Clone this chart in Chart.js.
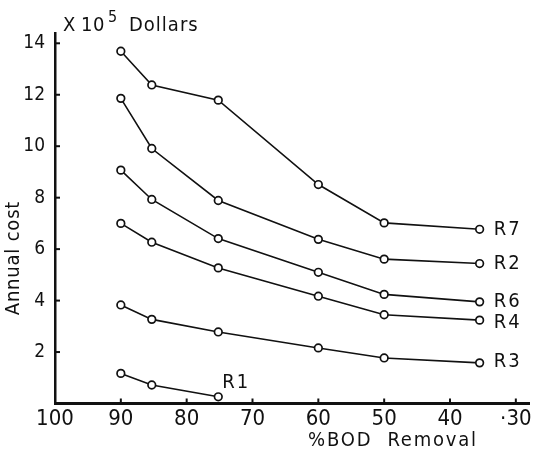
<!DOCTYPE html>
<html>
<head>
<meta charset="utf-8">
<script src="https://cdn.jsdelivr.net/npm/chart.js@4"></script>
<style>
  html, body { margin: 0; padding: 0; background: #fff; }
  #chart { display: block; }
</style>
</head>
<body>
<canvas id="chart" width="535" height="453"></canvas>
<script>
// % BOD removal at which each alternative was costed
var removal = [90, 85.3, 75.2, 60, 50, 35.5];
var removalR1 = [90, 85.3, 75.2];

// annual cost, x 10^5 dollars
var costR7 = [13.69, 12.38, 11.79, 8.51, 7.02, 6.77];
var costR2 = [11.86, 9.91, 7.89, 6.38, 5.61, 5.44];
var costR6 = [9.07, 7.93, 6.41, 5.10, 4.24, 3.95];
var costR4 = [7.00, 6.27, 5.27, 4.17, 3.45, 3.24];
var costR3 = [3.83, 3.27, 2.78, 2.16, 1.77, 1.58];
var costR1 = [1.17, 0.72, 0.26];

var xTicks = [100, 90, 80, 70, 60, 50, 40, 30];
var xTickLabels = ['100', '90', '80', '70', '60', '50', '40', '\u00b730'];
var yTicks = [2, 4, 6, 8, 10, 12, 14];

// where each curve name sits relative to its last point
var labelOffsets = { R7: [14, 0], R2: [14, 0], R6: [14, 0], R4: [14, 3], R3: [14, -1], R1: [4, -14] };

var FONT = "'DejaVu Sans Condensed', 'DejaVu Sans', sans-serif";

function pts(xs, ys) {
    var out = [];
    for (var i = 0; i < xs.length; i++) out.push({ x: xs[i], y: ys[i] });
    return out;
}

function series(name, xs, ys) {
    return {
        label: name,
        data: pts(xs, ys),
        borderColor: '#111',
        borderWidth: 1.6,
        pointRadius: 3.8,
        pointBorderWidth: 1.7,
        pointBackgroundColor: '#fff',
        pointBorderColor: '#111',
        tension: 0
    };
}

// short ticks pointing into the plot, curve names, axis titles
var decorations = {
    id: 'decorations',
    afterDraw: function (chart) {
        var ctx = chart.ctx;
        var xs = chart.scales.x, ys = chart.scales.y;
        var area = chart.chartArea;
        ctx.save();
        ctx.strokeStyle = '#111';
        ctx.lineWidth = 2;
        xTicks.forEach(function (v) {
            if (v === 100) return;
            var px = xs.getPixelForValue(v);
            ctx.beginPath();
            ctx.moveTo(px, area.bottom);
            ctx.lineTo(px, area.bottom - 5);
            ctx.stroke();
        });
        yTicks.forEach(function (v) {
            var py = ys.getPixelForValue(v);
            ctx.beginPath();
            ctx.moveTo(area.left, py);
            ctx.lineTo(area.left + 5, py);
            ctx.stroke();
        });

        ctx.fillStyle = '#111';
        ctx.textBaseline = 'middle';
        ctx.textAlign = 'left';
        ctx.font = '20px ' + FONT;
        ctx.letterSpacing = '2px';
        chart.data.datasets.forEach(function (ds, i) {
            var meta = chart.getDatasetMeta(i);
            var last = meta.data[meta.data.length - 1];
            var off = labelOffsets[ds.label];
            ctx.fillText(ds.label, last.x + off[0], last.y + off[1]);
        });

        // y title above the axis
        ctx.textBaseline = 'alphabetic';
        ctx.font = '20px ' + FONT;
        ctx.letterSpacing = '0.5px';
        ctx.fillText('X', 63, 31);
        ctx.fillText('10', 81, 31);
        ctx.font = '16px ' + FONT;
        ctx.fillText('5', 108, 22);
        ctx.font = '20px ' + FONT;
        ctx.letterSpacing = '1px';
        ctx.fillText('Dollars', 129, 31);

        // x title
        ctx.font = '20px ' + FONT;
        ctx.letterSpacing = '1.8px';
        ctx.textAlign = 'center';
        ctx.textBaseline = 'middle';
        ctx.fillText('%BOD  Removal', 393, 441);

        // rotated y label
        ctx.translate(14, 258);
        ctx.rotate(-Math.PI / 2);
        ctx.font = '20px ' + FONT;
        ctx.letterSpacing = '0.8px';
        ctx.fillText('Annual cost', 0, 0);
        ctx.restore();
    }
};

new Chart(document.getElementById('chart'), {
    type: 'line',
    data: {
        datasets: [
            series('R7', removal, costR7),
            series('R2', removal, costR2),
            series('R6', removal, costR6),
            series('R4', removal, costR4),
            series('R3', removal, costR3),
            series('R1', removalR1, costR1)
        ]
    },
    options: {
        responsive: false,
        animation: false,
        layout: { padding: { top: 33, right: 6, left: 0, bottom: 0 } },
        plugins: { legend: { display: false }, tooltip: { enabled: false } },
        scales: {
            x: {
                type: 'linear',
                reverse: true,
                min: 28,
                max: 100,
                afterBuildTicks: function (scale) {
                    scale.ticks = xTicks.map(function (v) { return { value: v }; });
                },
                afterFit: function (scale) { scale.height = 49.5; },
                grid: { display: false, drawTicks: false },
                border: { display: true, color: '#111', width: 3 },
                ticks: {
                    color: '#111',
                    padding: 3,
                    maxRotation: 0,
                    autoSkip: false,
                    font: { family: FONT, size: 22 },
                    callback: function (v) {
                        var i = xTicks.indexOf(v);
                        return i < 0 ? '' : xTickLabels[i];
                    }
                }
            },
            y: {
                min: 0,
                max: 14.4,
                afterBuildTicks: function (scale) {
                    scale.ticks = yTicks.map(function (v) { return { value: v }; });
                },
                afterFit: function (scale) { scale.width = 55; },
                grid: { display: false, drawTicks: false },
                border: { display: true, color: '#111', width: 2.5 },
                ticks: {
                    color: '#111',
                    padding: 10,
                    font: { family: FONT, size: 19 },
                    callback: function (v) { return String(v); }
                }
            }
        }
    },
    plugins: [decorations]
});
</script>
</body>
</html>
